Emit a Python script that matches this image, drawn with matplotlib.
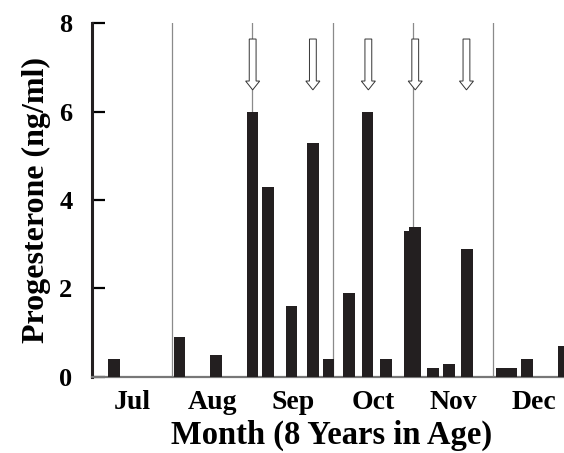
import matplotlib.pyplot as plt
from matplotlib.patches import FancyArrow

# x in months from 1 July (0 = Jul 1, 1 = Aug 1, ...)
bar_pos = [0.273, 1.091, 1.544, 2.002, 2.195, 2.488, 2.752, 2.947, 3.205, 3.432,
           3.661, 3.957, 4.022, 4.248, 4.447, 4.675, 5.099, 5.220, 5.422, 5.880]
progesterone = [0.4, 0.9, 0.5, 6.0, 4.3, 1.6, 5.3, 0.4, 1.9, 6.0,
                0.4, 3.3, 3.4, 0.2, 0.3, 2.9, 0.2, 0.2, 0.4, 0.7]
month_bounds = [1, 2, 3, 4, 5]
month_names = ['Jul', 'Aug', 'Sep', 'Oct', 'Nov', 'Dec']
arrow_pos = [2.002, 2.752, 3.443, 4.027, 4.665]

plt.rcParams['font.family'] = ['Liberation Serif', 'DejaVu Serif']
plt.rcParams['font.weight'] = 'bold'

fig = plt.figure(figsize=(5.64, 4.53), dpi=100)
ax = fig.add_axes([0.163, 0.168, 0.837, 0.781])

bar_color = '#231f20'
ax.bar(bar_pos, progesterone, width=0.144, color=bar_color, zorder=3)

for b in month_bounds:
    ax.axvline(b, color='#8a8a8a', lw=0.9, zorder=1)

# open arrows marking events
for a in arrow_pos:
    arr = FancyArrow(a, 7.64, 0, -1.15, width=0.085, head_width=0.175,
                     head_length=0.2, length_includes_head=True,
                     facecolor='white', edgecolor='#333333', lw=0.7, zorder=2)
    ax.add_patch(arr)

ax.set_xlim(0, 5.88)
ax.set_ylim(0, 8)
ax.set_yticks([0, 2, 4, 6, 8])
ax.set_xticks([])
ax.tick_params(axis='y', direction='in', length=9, width=1.6, labelsize=19, pad=14)
for lab in ax.get_yticklabels():
    lab.set_fontweight('bold')

ax.spines['top'].set_visible(False)
ax.spines['right'].set_visible(False)
ax.spines['left'].set_linewidth(2.2)
ax.spines['left'].set_color('#231f20')
ax.spines['bottom'].set_linewidth(1.6)
ax.spines['bottom'].set_color('#777777')

# month names centred in each month
for i, name in enumerate(month_names):
    ax.text(i + 0.5, -0.59, name, ha='center', va='center', fontsize=20,
            fontweight='bold', clip_on=False)

ax.text(2.99, -1.33, 'Month (8 Years in Age)', ha='center', va='center',
        fontsize=23.5, fontweight='bold', clip_on=False)
ax.set_ylabel('Progesterone (ng/ml)', fontsize=23, fontweight='bold', labelpad=6)

plt.savefig('out.png', dpi=100)
